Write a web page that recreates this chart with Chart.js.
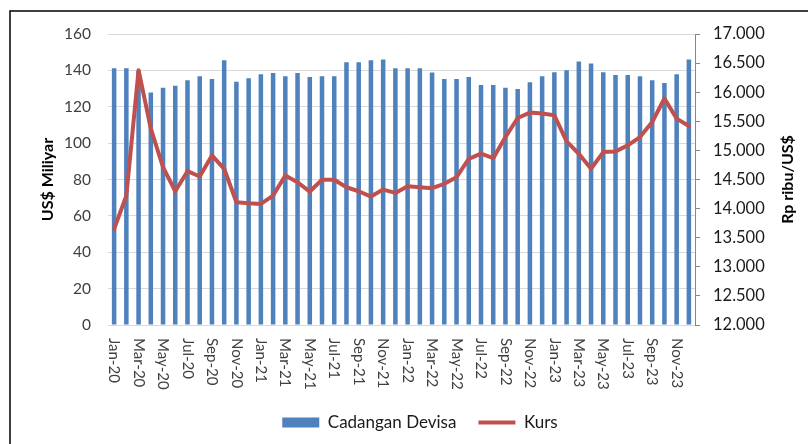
<!DOCTYPE html>
<html>
<head>
<meta charset="utf-8">
<script src="https://cdn.jsdelivr.net/npm/chart.js@4.4.1/dist/chart.umd.min.js"></script>
<style>
    html, body { margin: 0; padding: 0; background: #fff; }
    #wrap { width: 808px; height: 444px; }
</style>
</head>
<body>
<div id="wrap"><canvas id="reserveChart" width="808" height="444"></canvas></div>
<script>
// monthly categories, Jan-20 .. Dec-23
var months = [
    'Jan-20', 'Feb-20', 'Mar-20', 'Apr-20', 'May-20', 'Jun-20', 'Jul-20', 'Aug-20', 'Sep-20', 'Oct-20', 'Nov-20', 'Dec-20',
    'Jan-21', 'Feb-21', 'Mar-21', 'Apr-21', 'May-21', 'Jun-21', 'Jul-21', 'Aug-21', 'Sep-21', 'Oct-21', 'Nov-21', 'Dec-21',
    'Jan-22', 'Feb-22', 'Mar-22', 'Apr-22', 'May-22', 'Jun-22', 'Jul-22', 'Aug-22', 'Sep-22', 'Oct-22', 'Nov-22', 'Dec-22',
    'Jan-23', 'Feb-23', 'Mar-23', 'Apr-23', 'May-23', 'Jun-23', 'Jul-23', 'Aug-23', 'Sep-23', 'Oct-23', 'Nov-23', 'Dec-23'
];

// Cadangan Devisa, US$ miliar (left axis)
var cadanganDevisa = [
    141.1, 141.1, 140.0, 127.8, 130.4, 131.5, 134.6, 136.8, 135.2, 145.5, 133.7, 135.7,
    137.9, 138.5, 136.8, 138.5, 136.3, 136.8, 136.8, 144.4, 144.4, 145.5, 146.0, 141.1,
    141.1, 141.1, 138.9, 135.2, 135.2, 136.3, 131.9, 131.9, 130.4, 129.8, 133.5, 136.8,
    139.0, 140.1, 144.9, 143.8, 139.0, 137.4, 137.4, 136.8, 134.6, 133.0, 137.9, 146.0
];

// Kurs, Rp per US$ (right axis)
var kurs = [
    13650, 14224, 16379, 15374, 14712, 14298, 14643, 14552, 14914, 14684, 14109, 14091,
    14081, 14224, 14569, 14453, 14293, 14495, 14495, 14367, 14298, 14207, 14327, 14270,
    14385, 14367, 14350, 14425, 14540, 14856, 14943, 14867, 15229, 15557, 15650, 15633,
    15603, 15155, 14943, 14684, 14971, 14983, 15086, 15229, 15488, 15891, 15546, 15419
];

var leftRange = [0, 160, 20];        // min, max, step
var rightRange = [12000, 17000, 500];

var fontFamily = 'Lato, "Open Sans", sans-serif';

function dotThousands(v) {
    return String(v).replace(/\B(?=(\d{3})+(?!\d))/g, '.');
}

// outer frame of the picture
var framePlugin = {
    id: 'frame',
    beforeDraw: function(chart) {
        var ctx = chart.ctx;
        ctx.save();
        ctx.fillStyle = '#fff';
        ctx.fillRect(0, 0, chart.width, chart.height);
        ctx.strokeStyle = '#000';
        ctx.lineWidth = 1.5;
        ctx.beginPath();
        ctx.moveTo(10, chart.height);
        ctx.lineTo(10, 11);
        ctx.lineTo(chart.width, 11);
        ctx.stroke();
        ctx.restore();
    }
};

// month labels turned clockwise, every second month
var monthLabelPlugin = {
    id: 'monthLabels',
    afterDraw: function(chart) {
        var xScale = chart.scales.x;
        var ctx = chart.ctx;
        ctx.save();
        ctx.font = '15px ' + fontFamily;
        ctx.fillStyle = '#404040';
        ctx.textAlign = 'left';
        ctx.textBaseline = 'middle';
        months.forEach(function(m, i) {
            if (i % 2) return;
            ctx.save();
            ctx.translate(xScale.getPixelForValue(i), chart.chartArea.bottom + 13);
            ctx.rotate(Math.PI / 2);
            ctx.fillText(m, 0, 0);
            ctx.restore();
        });
        ctx.restore();
    }
};

// both axis titles read bottom-to-top
var axisTitlePlugin = {
    id: 'axisTitles',
    afterDraw: function(chart) {
        var ctx = chart.ctx;
        var midY = (chart.chartArea.top + chart.chartArea.bottom) / 2;
        var spots = [
            [chart.scales.y.left + 16, 'US$ Miliyar'],
            [chart.scales.y1.right - 20, 'Rp ribu/US$']
        ];
        ctx.save();
        ctx.font = 'bold 16px ' + fontFamily;
        ctx.fillStyle = '#000';
        ctx.textAlign = 'center';
        ctx.textBaseline = 'middle';
        spots.forEach(function(s) {
            ctx.save();
            ctx.translate(s[0], midY);
            ctx.rotate(-Math.PI / 2);
            ctx.fillText(s[1], 0, 0);
            ctx.restore();
        });
        ctx.restore();
    }
};

var ctx = document.getElementById('reserveChart').getContext('2d');
var chart = new Chart(ctx, {
    type: 'bar',
    data: {
        labels: months,
        datasets: [{
            type: 'bar',
            label: 'Cadangan Devisa',
            data: cadanganDevisa,
            backgroundColor: '#4F81BD',
            borderWidth: 0,
            pointStyle: 'rect',
            yAxisID: 'y',
            categoryPercentage: 1,
            barPercentage: 0.37,
            order: 2
        }, {
            type: 'line',
            label: 'Kurs',
            data: kurs,
            borderColor: '#C0504D',
            backgroundColor: '#C0504D',
            borderWidth: 4,
            borderJoinStyle: 'round',
            borderCapStyle: 'round',
            pointRadius: 0,
            pointStyle: 'line',
            tension: 0,
            yAxisID: 'y1',
            order: 1
        }]
    },
    options: {
        responsive: false,
        animation: false,
        devicePixelRatio: 1,
        layout: {
            padding: { left: 32, right: 0, top: 34, bottom: 3 }
        },
        plugins: {
            tooltip: { enabled: false },
            legend: {
                position: 'bottom',
                labels: {
                    usePointStyle: true,
                    pointStyleWidth: 37,
                    boxHeight: 10,
                    padding: 22,
                    color: '#1a1a1a',
                    font: { family: fontFamily, size: 17 },
                    sort: function(a, b) { return a.datasetIndex - b.datasetIndex; }
                }
            }
        },
        scales: {
            x: {
                offset: true,
                grid: { display: false },
                border: { display: false },
                ticks: { display: false },
                afterFit: function(scale) { scale.height = 67; }
            },
            y: {
                position: 'left',
                min: leftRange[0],
                max: leftRange[1],
                grid: { color: '#D9D9D9', drawTicks: false },
                border: { display: false },
                ticks: {
                    stepSize: leftRange[2],
                    padding: 17,
                    color: '#404040',
                    font: { family: fontFamily, size: 15.5 }
                },
                afterFit: function(scale) { scale.width = 76; }
            },
            y1: {
                position: 'right',
                min: rightRange[0],
                max: rightRange[1],
                grid: { drawOnChartArea: false, color: '#868686', tickLength: 5 },
                border: { color: '#868686' },
                ticks: {
                    stepSize: rightRange[2],
                    padding: 13,
                    color: '#1a1a1a',
                    font: { family: fontFamily, size: 16.5 },
                    callback: function(v) { return dotThousands(v); }
                },
                afterFit: function(scale) { scale.width = 113; }
            }
        }
    },
    plugins: [framePlugin, monthLabelPlugin, axisTitlePlugin]
});
</script>
</body>
</html>
